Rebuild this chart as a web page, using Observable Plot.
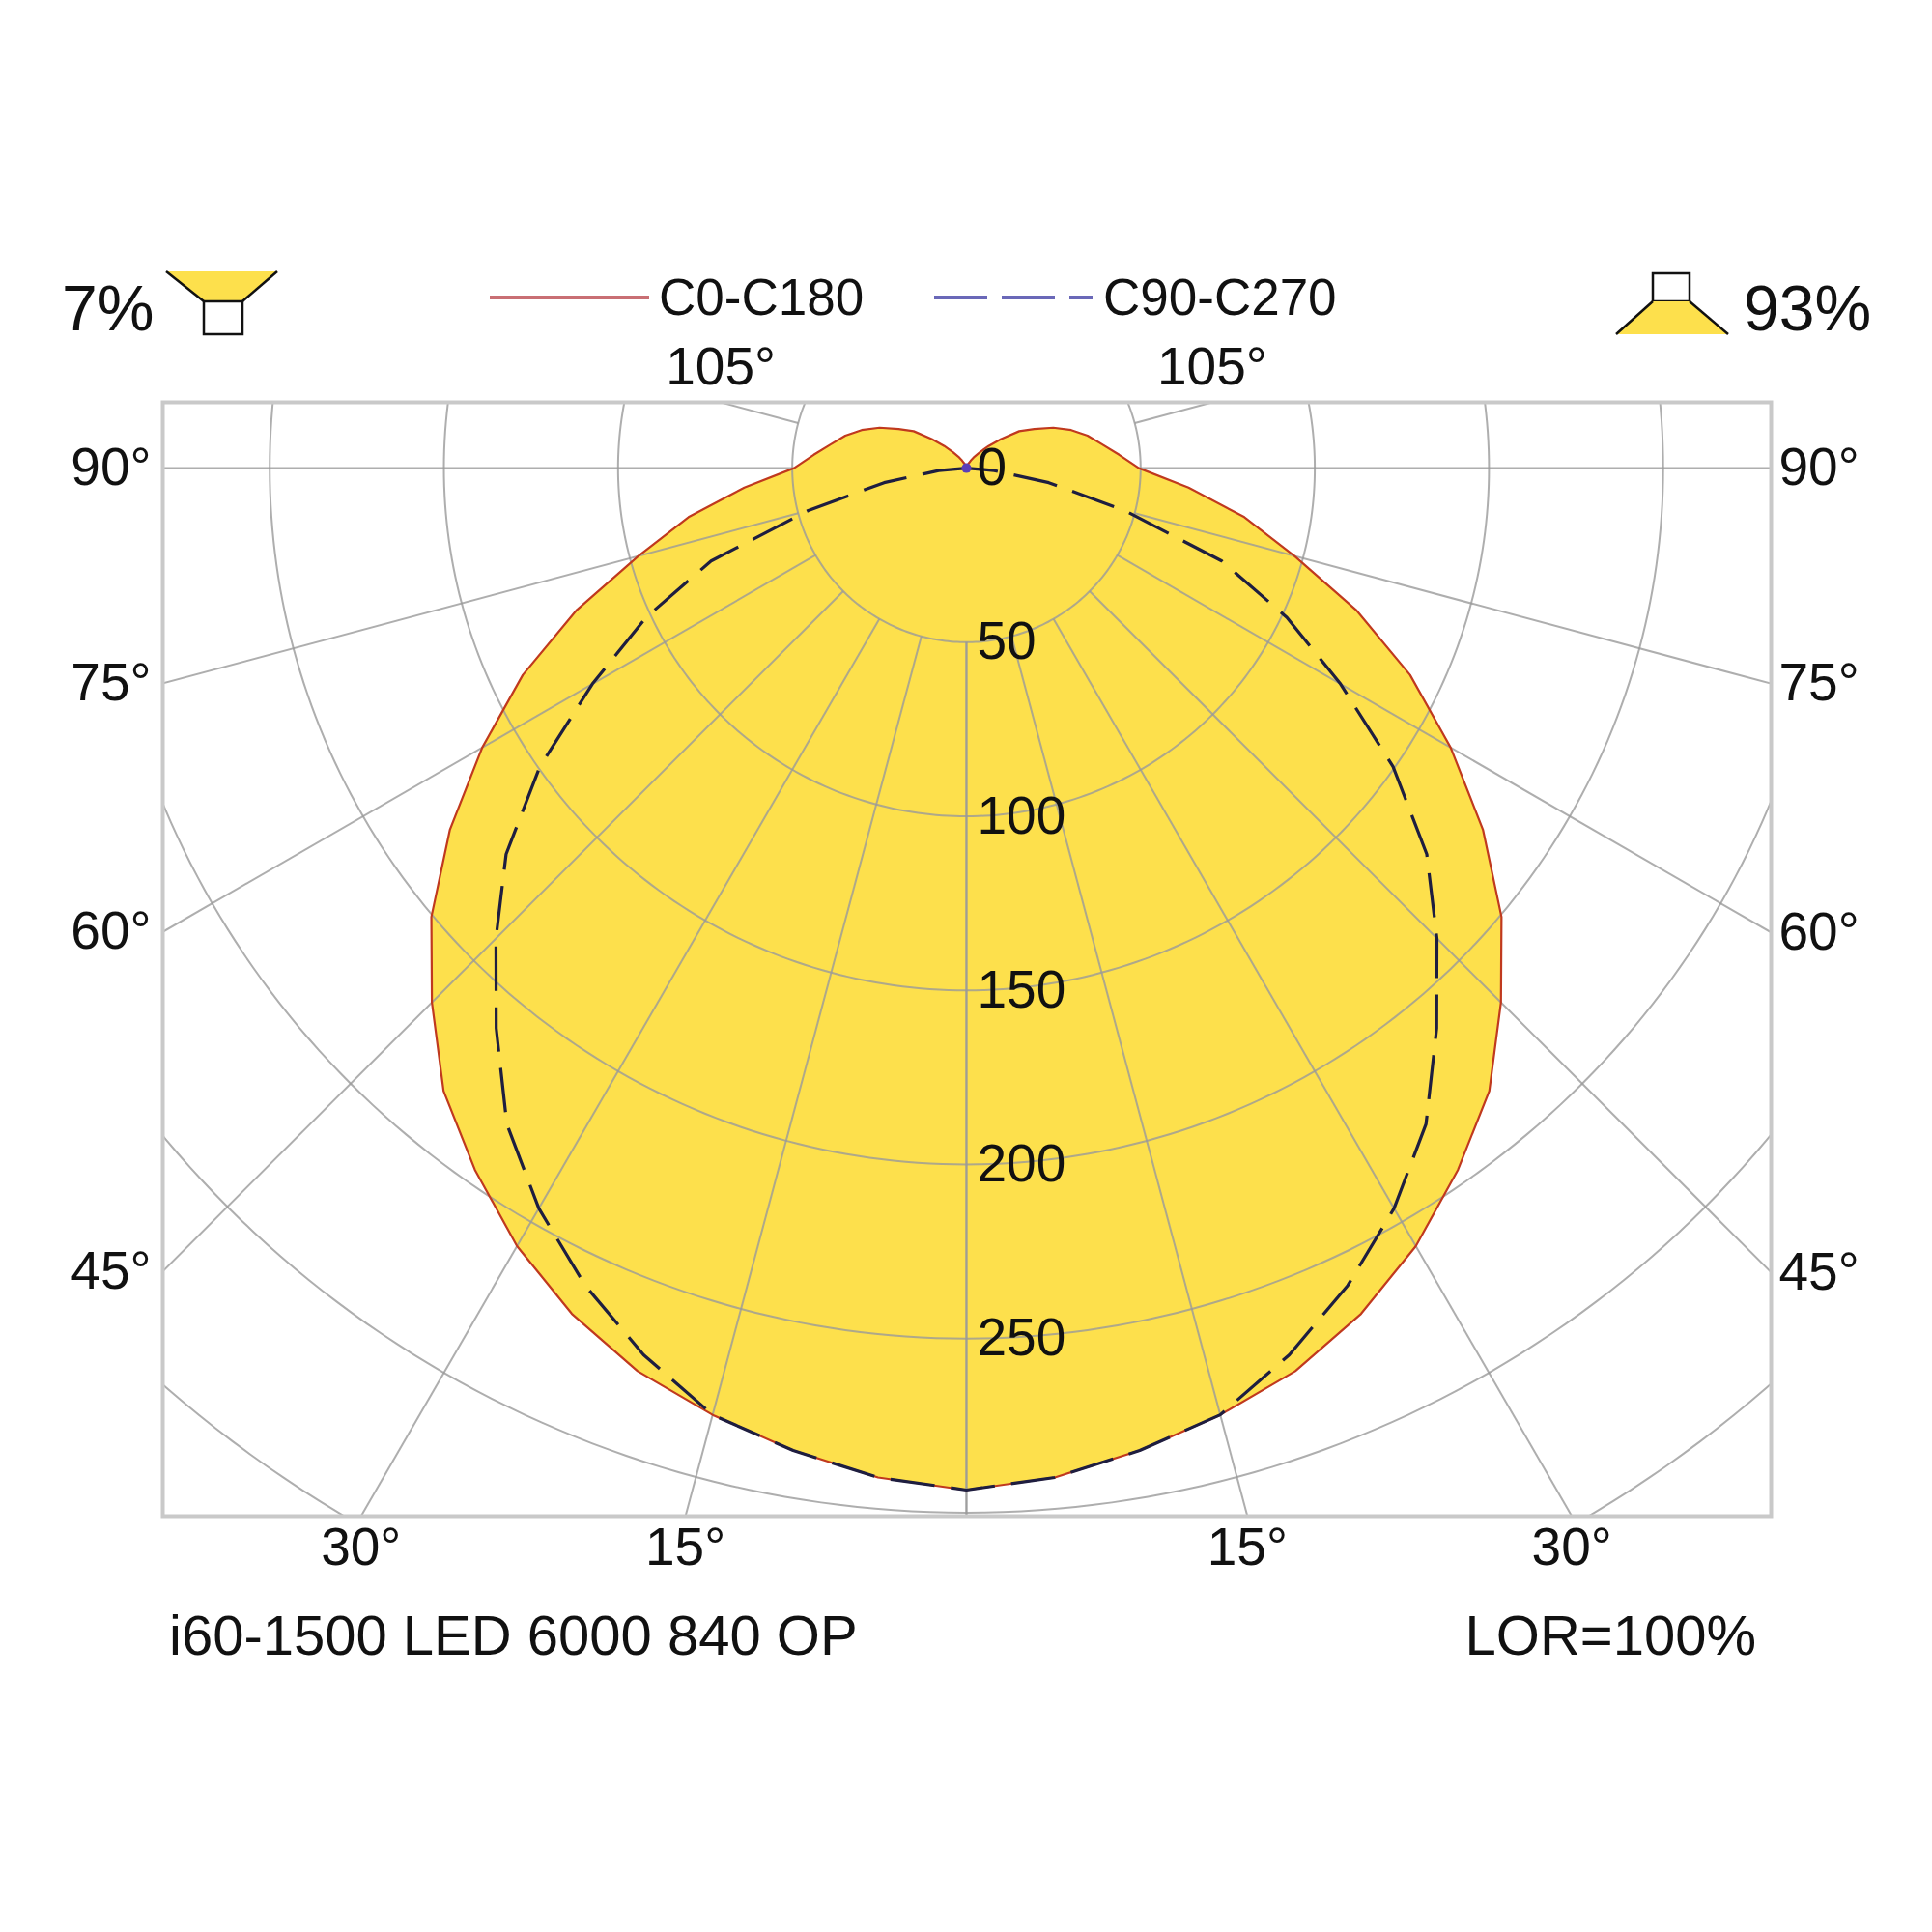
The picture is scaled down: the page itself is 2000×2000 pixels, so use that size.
<!DOCTYPE html>
<html>
<head>
<meta charset="utf-8">
<script src="https://cdn.jsdelivr.net/npm/d3@7"></script>
<script src="https://cdn.jsdelivr.net/npm/@observablehq/plot@0.6"></script>
<style>
html, body { margin: 0; padding: 0; background: #ffffff; }
#chart svg { display: block; }
</style>
</head>
<body>
<div id="chart"></div>
<script>
// ---- data ----
const gammaDeg = [0, 5, 10, 15, 20, 25, 30, 35, 40, 45, 50, 55, 60, 65, 70, 75, 80, 85, 90,
                  95, 100, 105, 110, 115, 120, 125, 130, 135, 140, 145, 150, 155, 160, 165, 170, 175, 180];
const c0c180 = [293.5, 291, 286.5, 281.5, 276, 268, 258, 246, 233.5, 217, 200.5, 181, 160.5, 140.5, 119, 97.5, 81, 64, 49.5,
                44, 39.5, 36, 32, 27.5, 22.5, 18.5, 13, 9, 6, 4, 2.5, 1.5, 1, 0.5, 0, 0, 0];
const c90c270 = [293.5, 291, 286.5, 281.5, 271, 259, 245.5, 230, 210, 191, 172.5, 149.5, 124, 101.5, 78, 47, 24, 8, 0,
                 0, 0, 0, 0, 0, 0, 0, 0, 0, 0, 0, 0, 0, 0, 0, 0, 0, 0];
const ringValues = [50, 100, 150, 200, 250, 300, 350];
const ringLabels = [0, 50, 100, 150, 200, 250];
const radialAngles = [0, 15, 30, 45, 60, 75, 90, 105, 120, 135, 150, 165, 180];
const sideLabelAngles = [45, 60, 75, 90];
const bottomLabelAngles = [15, 30];
const topLabelAngles = [105];
const seriesNames = ["C0-C180", "C90-C270"];
const shareDown = "7%";
const shareUp = "93%";
const productName = "i60-1500 LED 6000 840 OP";
const lorText = "LOR=100%";

// ---- chart config ----
const xDomain = [-230.7, 231.0];
const yDomain = [-301, 18.9];
const innerR = 50, outerR = 600;
const yellow = "#fde04c";
const font = "'Liberation Sans', Arial, Helvetica, sans-serif";

const rad = d => d * Math.PI / 180;
const toXY = (r, g, side) => ({x: side * r * Math.sin(rad(g)), y: -r * Math.cos(rad(g)), r});

function polar(values) {
  const left = gammaDeg.map((g, i) => toXY(values[i], g, -1)).reverse();
  const right = gammaDeg.map((g, i) => toXY(values[i], g, 1));
  return left.concat(right);
}
const c0Pts = polar(c0c180);
const c90Pts = polar(c90c270);

const ringPts = ringValues.flatMap(r => d3.range(0, 361, 1).map(a => ({ring: r, ...toXY(r, a, 1)})));
const spokes = radialAngles.flatMap(a => [1, -1].map(s => {
  const p1 = toXY(innerR, a, s), p2 = toXY(outerR, a, s);
  return {x1: p1.x, y1: p1.y, x2: p2.x, y2: p2.y};
}));

const sideLabels = sideLabelAngles.flatMap(a => [
  {x: xDomain[0], y: -Math.abs(xDomain[0]) / Math.tan(rad(a)), t: a + "°", side: -1},
  {x: xDomain[1], y: -Math.abs(xDomain[1]) / Math.tan(rad(a)), t: a + "°", side: 1}
]);
const bottomLabels = bottomLabelAngles.flatMap(a => [-1, 1].map(s =>
  ({x: s * -yDomain[0] * Math.tan(rad(a)), y: yDomain[0], t: a + "°"})));
const topLabels = topLabelAngles.flatMap(a => [-1, 1].map(s =>
  ({x: s * -yDomain[1] * Math.tan(rad(a)), y: yDomain[1], t: a + "°"})));

const gridStyle = {stroke: "#9a9a9a", strokeWidth: 2, strokeOpacity: 0.8, clip: "frame"};

const plot = Plot.plot({
  width: 2000,
  height: 2000,
  marginLeft: 168,
  marginRight: 167,
  marginTop: 416,
  marginBottom: 431,
  x: {domain: xDomain, axis: null},
  y: {domain: yDomain, axis: null},
  style: {fontFamily: font, background: "#ffffff", color: "#111"},
  marks: [
    Plot.line(c0Pts, {x: "x", y: "y", fill: yellow, stroke: "none"}),
    Plot.line(ringPts, {x: "x", y: "y", z: "ring", ...gridStyle}),
    Plot.link(spokes, {x1: "x1", y1: "y1", x2: "x2", y2: "y2", ...gridStyle}),
    Plot.frame({stroke: "#c9c9c9", strokeWidth: 4}),
    Plot.line(c0Pts, {x: "x", y: "y", stroke: "#c0391e", strokeWidth: 2.2}),
    Plot.line(c90Pts, {x: "x", y: "y", stroke: "#1e1e40", strokeWidth: 3.2, strokeDasharray: "46,17", strokeLinecap: "butt"}),
    Plot.dot(c90Pts.filter(d => d.r === 0).slice(0, 1), {x: "x", y: "y", r: 5, fill: "#5b3fb8", stroke: "none"}),
    Plot.text(ringLabels, {x: 0, y: d => -d, text: d => String(d), textAnchor: "start", dx: 11, fontSize: 55, fill: "#111"}),
    Plot.text(sideLabels.filter(d => d.side < 0), {x: "x", y: "y", text: "t", textAnchor: "end", dx: -12, fontSize: 55, fill: "#111"}),
    Plot.text(sideLabels.filter(d => d.side > 0), {x: "x", y: "y", text: "t", textAnchor: "start", dx: 8, fontSize: 55, fill: "#111"}),
    Plot.text(bottomLabels, {x: "x", y: "y", text: "t", dy: 33, fontSize: 55, fill: "#111"}),
    Plot.text(topLabels, {x: "x", y: "y", text: "t", dy: -36, fontSize: 55, fill: "#111"})
  ]
});

document.getElementById("chart").appendChild(plot);

// ---- legend, share icons and captions ----
const svg = d3.select(plot);
const g = svg.append("g")
  .attr("font-family", font)
  .attr("fill", "#111")
  .attr("text-anchor", "start");

// legend entries
g.append("line").attr("x1", 507).attr("x2", 672).attr("y1", 308).attr("y2", 308)
  .attr("stroke", "#c96f74").attr("stroke-width", 4);
g.append("text").attr("x", 682).attr("y", 326).attr("font-size", 53).attr("text-anchor", "start").text(seriesNames[0]);
g.append("line").attr("x1", 967).attr("x2", 1131).attr("y1", 308).attr("y2", 308)
  .attr("stroke", "#6a68b8").attr("stroke-width", 4).attr("stroke-dasharray", "55,15");
g.append("text").attr("x", 1142).attr("y", 326).attr("font-size", 53).attr("text-anchor", "start").text(seriesNames[1]);

// left: downward share icon
g.append("text").attr("x", 64).attr("y", 342).attr("font-size", 66).attr("text-anchor", "start").text(shareDown);
g.append("polygon").attr("points", "172,281 287,281 251,312 211,312").attr("fill", yellow).attr("stroke", "none");
g.append("line").attr("x1", 172).attr("y1", 281).attr("x2", 211).attr("y2", 312).attr("stroke", "#111").attr("stroke-width", 2.5);
g.append("line").attr("x1", 287).attr("y1", 281).attr("x2", 251).attr("y2", 312).attr("stroke", "#111").attr("stroke-width", 2.5);
g.append("rect").attr("x", 211).attr("y", 312).attr("width", 40).attr("height", 34)
  .attr("fill", "#fff").attr("stroke", "#111").attr("stroke-width", 2.5);

// right: upward share icon
g.append("rect").attr("x", 1711).attr("y", 283).attr("width", 38).attr("height", 29)
  .attr("fill", "#fff").attr("stroke", "#111").attr("stroke-width", 2.5);
g.append("polygon").attr("points", "1711,312 1749,312 1789,346 1673,346").attr("fill", yellow).attr("stroke", "none");
g.append("line").attr("x1", 1711).attr("y1", 312).attr("x2", 1673).attr("y2", 346).attr("stroke", "#111").attr("stroke-width", 2.5);
g.append("line").attr("x1", 1749).attr("y1", 312).attr("x2", 1789).attr("y2", 346).attr("stroke", "#111").attr("stroke-width", 2.5);
g.append("text").attr("x", 1805).attr("y", 342).attr("font-size", 66).attr("text-anchor", "start").text(shareUp);

// captions
g.append("text").attr("x", 175).attr("y", 1713).attr("font-size", 58).attr("text-anchor", "start").text(productName);
g.append("text").attr("x", 1818).attr("y", 1713).attr("font-size", 58).attr("text-anchor", "end").text(lorText);
</script>
</body>
</html>
